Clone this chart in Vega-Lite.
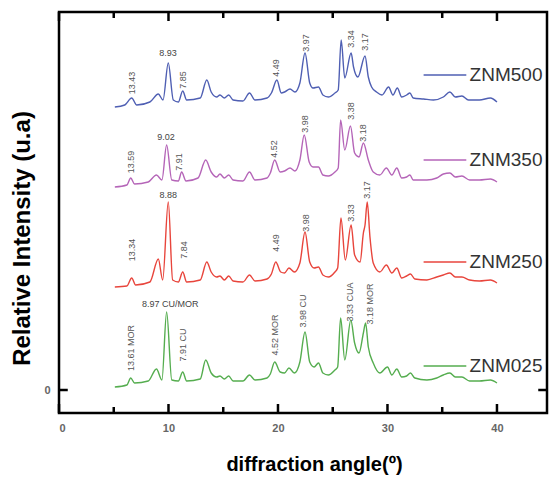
{
  "$schema": "https://vega.github.io/schema/vega-lite/v6.json",
  "width": 488,
  "height": 401,
  "autosize": {"type": "none"},
  "padding": {"left": 59, "top": 12, "right": 4, "bottom": 64},
  "background": "white",
  "config": {
    "view": {"stroke": "black", "strokeWidth": 2.5},
    "font": "Liberation Sans",
    "axis": {"domain": false, "grid": false, "ticks": false, "labelFont": "Liberation Sans", "titleFont": "Liberation Sans"}
  },
  "datasets": {
    "trace": [
      {"s":"ZNM500","x":5.1,"y":283},{"s":"ZNM500","x":6.0,"y":285},{"s":"ZNM500","x":6.64,"y":292},{"s":"ZNM500","x":7.1,"y":285},{"s":"ZNM500","x":8.3,"y":288},{"s":"ZNM500","x":9.07,"y":296},{"s":"ZNM500","x":9.5,"y":290},{"s":"ZNM500","x":9.98,"y":327},{"s":"ZNM500","x":10.44,"y":290},{"s":"ZNM500","x":10.9,"y":288},{"s":"ZNM500","x":11.3,"y":299},{"s":"ZNM500","x":11.66,"y":290},{"s":"ZNM500","x":12.9,"y":292},{"s":"ZNM500","x":13.5,"y":310},{"s":"ZNM500","x":13.9,"y":298},{"s":"ZNM500","x":14.4,"y":293},{"s":"ZNM500","x":14.7,"y":295},{"s":"ZNM500","x":15.1,"y":292},{"s":"ZNM500","x":15.5,"y":295},{"s":"ZNM500","x":15.9,"y":290},{"s":"ZNM500","x":16.8,"y":289},{"s":"ZNM500","x":17.4,"y":297},{"s":"ZNM500","x":17.9,"y":290},{"s":"ZNM500","x":19.0,"y":292},{"s":"ZNM500","x":19.4,"y":297},{"s":"ZNM500","x":19.9,"y":310},{"s":"ZNM500","x":20.3,"y":297},{"s":"ZNM500","x":20.6,"y":298},{"s":"ZNM500","x":21.1,"y":301},{"s":"ZNM500","x":21.55,"y":298},{"s":"ZNM500","x":22.0,"y":307},{"s":"ZNM500","x":22.47,"y":337},{"s":"ZNM500","x":22.9,"y":307},{"s":"ZNM500","x":23.2,"y":302},{"s":"ZNM500","x":23.7,"y":303},{"s":"ZNM500","x":24.1,"y":295},{"s":"ZNM500","x":24.6,"y":293},{"s":"ZNM500","x":25.2,"y":297},{"s":"ZNM500","x":25.5,"y":300},{"s":"ZNM500","x":25.77,"y":350},{"s":"ZNM500","x":26.1,"y":312},{"s":"ZNM500","x":26.68,"y":337},{"s":"ZNM500","x":26.9,"y":323},{"s":"ZNM500","x":27.3,"y":313},{"s":"ZNM500","x":27.95,"y":334},{"s":"ZNM500","x":28.25,"y":313},{"s":"ZNM500","x":28.55,"y":303},{"s":"ZNM500","x":29.0,"y":298},{"s":"ZNM500","x":29.5,"y":295},{"s":"ZNM500","x":30.1,"y":303},{"s":"ZNM500","x":30.5,"y":295},{"s":"ZNM500","x":30.9,"y":302},{"s":"ZNM500","x":31.3,"y":293},{"s":"ZNM500","x":31.75,"y":295},{"s":"ZNM500","x":32.05,"y":297},{"s":"ZNM500","x":32.35,"y":292},{"s":"ZNM500","x":33.3,"y":291},{"s":"ZNM500","x":34.2,"y":290},{"s":"ZNM500","x":35.1,"y":293},{"s":"ZNM500","x":35.7,"y":298},{"s":"ZNM500","x":36.2,"y":293},{"s":"ZNM500","x":36.8,"y":294},{"s":"ZNM500","x":37.4,"y":290},{"s":"ZNM500","x":38.4,"y":290},{"s":"ZNM500","x":39.4,"y":292},{"s":"ZNM500","x":40.0,"y":288},
      {"s":"ZNM350","x":5.1,"y":203},{"s":"ZNM350","x":6.2,"y":205},{"s":"ZNM350","x":6.55,"y":212},{"s":"ZNM350","x":6.9,"y":206},{"s":"ZNM350","x":8.15,"y":208},{"s":"ZNM350","x":8.9,"y":215},{"s":"ZNM350","x":9.4,"y":210},{"s":"ZNM350","x":9.83,"y":245},{"s":"ZNM350","x":10.3,"y":210},{"s":"ZNM350","x":10.9,"y":209},{"s":"ZNM350","x":11.2,"y":218},{"s":"ZNM350","x":11.6,"y":209},{"s":"ZNM350","x":12.7,"y":212},{"s":"ZNM350","x":13.4,"y":230},{"s":"ZNM350","x":13.9,"y":218},{"s":"ZNM350","x":14.4,"y":213},{"s":"ZNM350","x":14.7,"y":216},{"s":"ZNM350","x":15.1,"y":212},{"s":"ZNM350","x":15.5,"y":215},{"s":"ZNM350","x":15.9,"y":210},{"s":"ZNM350","x":16.8,"y":209},{"s":"ZNM350","x":17.4,"y":218},{"s":"ZNM350","x":17.9,"y":210},{"s":"ZNM350","x":19.0,"y":212},{"s":"ZNM350","x":19.3,"y":217},{"s":"ZNM350","x":19.7,"y":230},{"s":"ZNM350","x":20.2,"y":218},{"s":"ZNM350","x":20.6,"y":219},{"s":"ZNM350","x":21.1,"y":222},{"s":"ZNM350","x":21.55,"y":219},{"s":"ZNM350","x":22.0,"y":230},{"s":"ZNM350","x":22.4,"y":255},{"s":"ZNM350","x":22.85,"y":228},{"s":"ZNM350","x":23.2,"y":223},{"s":"ZNM350","x":23.7,"y":223},{"s":"ZNM350","x":24.1,"y":215},{"s":"ZNM350","x":24.6,"y":214},{"s":"ZNM350","x":25.2,"y":218},{"s":"ZNM350","x":25.5,"y":222},{"s":"ZNM350","x":25.72,"y":270},{"s":"ZNM350","x":26.1,"y":240},{"s":"ZNM350","x":26.62,"y":264},{"s":"ZNM350","x":27.0,"y":237},{"s":"ZNM350","x":27.4,"y":233},{"s":"ZNM350","x":27.8,"y":247},{"s":"ZNM350","x":28.25,"y":230},{"s":"ZNM350","x":28.7,"y":218},{"s":"ZNM350","x":29.3,"y":215},{"s":"ZNM350","x":29.9,"y":222},{"s":"ZNM350","x":30.4,"y":215},{"s":"ZNM350","x":30.85,"y":222},{"s":"ZNM350","x":31.3,"y":212},{"s":"ZNM350","x":31.75,"y":213},{"s":"ZNM350","x":32.05,"y":215},{"s":"ZNM350","x":32.35,"y":210},{"s":"ZNM350","x":33.6,"y":210},{"s":"ZNM350","x":34.5,"y":212},{"s":"ZNM350","x":35.1,"y":216},{"s":"ZNM350","x":35.7,"y":217},{"s":"ZNM350","x":36.2,"y":213},{"s":"ZNM350","x":36.8,"y":214},{"s":"ZNM350","x":37.5,"y":210},{"s":"ZNM350","x":38.4,"y":210},{"s":"ZNM350","x":39.4,"y":211},{"s":"ZNM350","x":40.0,"y":208},
      {"s":"ZNM250","x":5.1,"y":103},{"s":"ZNM250","x":6.2,"y":104},{"s":"ZNM250","x":6.64,"y":112},{"s":"ZNM250","x":7.0,"y":105},{"s":"ZNM250","x":8.3,"y":108},{"s":"ZNM250","x":9.07,"y":131},{"s":"ZNM250","x":9.47,"y":110},{"s":"ZNM250","x":9.98,"y":188},{"s":"ZNM250","x":10.38,"y":110},{"s":"ZNM250","x":10.9,"y":108},{"s":"ZNM250","x":11.3,"y":118},{"s":"ZNM250","x":11.66,"y":108},{"s":"ZNM250","x":12.9,"y":110},{"s":"ZNM250","x":13.5,"y":128},{"s":"ZNM250","x":13.9,"y":118},{"s":"ZNM250","x":14.4,"y":113},{"s":"ZNM250","x":14.7,"y":114},{"s":"ZNM250","x":15.1,"y":110},{"s":"ZNM250","x":15.5,"y":114},{"s":"ZNM250","x":15.9,"y":109},{"s":"ZNM250","x":16.8,"y":108},{"s":"ZNM250","x":17.4,"y":115},{"s":"ZNM250","x":17.9,"y":109},{"s":"ZNM250","x":19.0,"y":111},{"s":"ZNM250","x":19.4,"y":116},{"s":"ZNM250","x":19.8,"y":128},{"s":"ZNM250","x":20.25,"y":118},{"s":"ZNM250","x":20.6,"y":117},{"s":"ZNM250","x":21.0,"y":122},{"s":"ZNM250","x":21.5,"y":118},{"s":"ZNM250","x":22.0,"y":127},{"s":"ZNM250","x":22.47,"y":158},{"s":"ZNM250","x":22.9,"y":128},{"s":"ZNM250","x":23.3,"y":122},{"s":"ZNM250","x":23.7,"y":123},{"s":"ZNM250","x":24.1,"y":115},{"s":"ZNM250","x":24.6,"y":113},{"s":"ZNM250","x":25.2,"y":118},{"s":"ZNM250","x":25.45,"y":122},{"s":"ZNM250","x":25.75,"y":172},{"s":"ZNM250","x":26.15,"y":130},{"s":"ZNM250","x":26.68,"y":165},{"s":"ZNM250","x":27.0,"y":135},{"s":"ZNM250","x":27.5,"y":128},{"s":"ZNM250","x":27.8,"y":157},{"s":"ZNM250","x":27.95,"y":165},{"s":"ZNM250","x":28.15,"y":188},{"s":"ZNM250","x":28.4,"y":153},{"s":"ZNM250","x":28.7,"y":127},{"s":"ZNM250","x":29.3,"y":118},{"s":"ZNM250","x":29.9,"y":125},{"s":"ZNM250","x":30.4,"y":117},{"s":"ZNM250","x":30.85,"y":122},{"s":"ZNM250","x":31.3,"y":112},{"s":"ZNM250","x":31.75,"y":114},{"s":"ZNM250","x":32.1,"y":116},{"s":"ZNM250","x":32.5,"y":111},{"s":"ZNM250","x":33.6,"y":110},{"s":"ZNM250","x":34.5,"y":113},{"s":"ZNM250","x":35.1,"y":115},{"s":"ZNM250","x":35.7,"y":117},{"s":"ZNM250","x":36.2,"y":113},{"s":"ZNM250","x":36.8,"y":113},{"s":"ZNM250","x":37.5,"y":110},{"s":"ZNM250","x":38.4,"y":109},{"s":"ZNM250","x":39.4,"y":110},{"s":"ZNM250","x":40.0,"y":107},
      {"s":"ZNM025","x":5.1,"y":3},{"s":"ZNM025","x":6.2,"y":5},{"s":"ZNM025","x":6.55,"y":12},{"s":"ZNM025","x":6.9,"y":7},{"s":"ZNM025","x":8.15,"y":9},{"s":"ZNM025","x":8.9,"y":21},{"s":"ZNM025","x":9.4,"y":10},{"s":"ZNM025","x":9.83,"y":78},{"s":"ZNM025","x":10.3,"y":10},{"s":"ZNM025","x":10.9,"y":9},{"s":"ZNM025","x":11.3,"y":18},{"s":"ZNM025","x":11.66,"y":9},{"s":"ZNM025","x":12.9,"y":11},{"s":"ZNM025","x":13.4,"y":30},{"s":"ZNM025","x":13.9,"y":17},{"s":"ZNM025","x":14.4,"y":13},{"s":"ZNM025","x":14.7,"y":14},{"s":"ZNM025","x":15.1,"y":11},{"s":"ZNM025","x":15.5,"y":14},{"s":"ZNM025","x":15.9,"y":9},{"s":"ZNM025","x":16.8,"y":9},{"s":"ZNM025","x":17.4,"y":15},{"s":"ZNM025","x":17.9,"y":10},{"s":"ZNM025","x":19.0,"y":12},{"s":"ZNM025","x":19.3,"y":16},{"s":"ZNM025","x":19.7,"y":28},{"s":"ZNM025","x":20.2,"y":18},{"s":"ZNM025","x":20.6,"y":17},{"s":"ZNM025","x":21.0,"y":22},{"s":"ZNM025","x":21.5,"y":17},{"s":"ZNM025","x":22.0,"y":28},{"s":"ZNM025","x":22.47,"y":58},{"s":"ZNM025","x":22.9,"y":28},{"s":"ZNM025","x":23.3,"y":23},{"s":"ZNM025","x":23.7,"y":27},{"s":"ZNM025","x":24.1,"y":17},{"s":"ZNM025","x":24.6,"y":15},{"s":"ZNM025","x":25.2,"y":20},{"s":"ZNM025","x":25.45,"y":23},{"s":"ZNM025","x":25.72,"y":72},{"s":"ZNM025","x":26.1,"y":30},{"s":"ZNM025","x":26.65,"y":70},{"s":"ZNM025","x":27.0,"y":47},{"s":"ZNM025","x":27.4,"y":37},{"s":"ZNM025","x":27.8,"y":57},{"s":"ZNM025","x":28.0,"y":67},{"s":"ZNM025","x":28.25,"y":43},{"s":"ZNM025","x":28.7,"y":27},{"s":"ZNM025","x":29.3,"y":17},{"s":"ZNM025","x":30.0,"y":23},{"s":"ZNM025","x":30.4,"y":15},{"s":"ZNM025","x":30.85,"y":21},{"s":"ZNM025","x":31.3,"y":13},{"s":"ZNM025","x":31.75,"y":14},{"s":"ZNM025","x":32.1,"y":17},{"s":"ZNM025","x":32.5,"y":12},{"s":"ZNM025","x":33.6,"y":10},{"s":"ZNM025","x":34.5,"y":12},{"s":"ZNM025","x":35.1,"y":15},{"s":"ZNM025","x":35.7,"y":17},{"s":"ZNM025","x":36.2,"y":13},{"s":"ZNM025","x":36.8,"y":13},{"s":"ZNM025","x":37.5,"y":9},{"s":"ZNM025","x":38.4,"y":9},{"s":"ZNM025","x":39.4,"y":10},{"s":"ZNM025","x":40.0,"y":7}
    ],
    "peaks": [
      {"t":"13.43","x":6.64,"y":307,"o":"v"},{"t":"8.93","x":9.95,"y":337,"o":"h"},{"t":"7.85","x":11.35,"y":310,"o":"v"},{"t":"4.49","x":19.8,"y":322,"o":"v"},{"t":"3.97","x":22.55,"y":347,"o":"v"},{"t":"3.34","x":26.7,"y":351,"o":"v"},{"t":"3.17","x":27.95,"y":348,"o":"v"},
      {"t":"13.59","x":6.55,"y":228,"o":"v"},{"t":"9.02","x":9.77,"y":253,"o":"h"},{"t":"7.91","x":11.0,"y":228,"o":"v"},{"t":"4.52","x":19.6,"y":241,"o":"v"},{"t":"3.98","x":22.47,"y":266,"o":"v"},{"t":"3.38","x":26.65,"y":279,"o":"v"},{"t":"3.18","x":27.8,"y":257,"o":"v"},
      {"t":"13.34","x":6.64,"y":140,"o":"v"},{"t":"8.88","x":9.98,"y":195,"o":"h"},{"t":"7.84","x":11.4,"y":140,"o":"v"},{"t":"4.49","x":19.8,"y":147,"o":"v"},{"t":"3.98","x":22.55,"y":167,"o":"v"},{"t":"3.33","x":26.7,"y":177,"o":"v"},{"t":"3.17","x":28.1,"y":200,"o":"v"},
      {"t":"13.61  MOR","x":6.55,"y":42,"o":"v"},{"t":"8.97  CU/MOR","x":10.15,"y":86,"o":"h"},{"t":"7.91  CU","x":11.35,"y":45,"o":"v"},{"t":"4.52  MOR","x":19.7,"y":55,"o":"v"},{"t":"3.98  CU","x":22.25,"y":79,"o":"v"},{"t":"3.33  CUA","x":26.6,"y":88,"o":"v"},{"t":"3.18  MOR","x":28.4,"y":86,"o":"v"}
    ],
    "legend": [
      {"s":"ZNM500","x1":33.3,"x2":37.2,"tx":37.5,"y":315},
      {"s":"ZNM350","x1":33.3,"x2":37.2,"tx":37.5,"y":230},
      {"s":"ZNM250","x1":33.3,"x2":37.2,"tx":37.5,"y":128},
      {"s":"ZNM025","x1":33.3,"x2":37.2,"tx":37.5,"y":24}
    ],
    "xticks": [
      {"v":0,"a":-23,"b":-14},{"v":5,"a":-23,"b":-17},{"v":10,"a":-23,"b":-14},{"v":15,"a":-23,"b":-17},{"v":20,"a":-23,"b":-14},{"v":25,"a":-23,"b":-17},{"v":30,"a":-23,"b":-14},{"v":35,"a":-23,"b":-17},{"v":40,"a":-23,"b":-14},
      {"v":0,"a":378,"b":369},{"v":5,"a":378,"b":372},{"v":10,"a":378,"b":369},{"v":15,"a":378,"b":372},{"v":20,"a":378,"b":369},{"v":25,"a":378,"b":372},{"v":30,"a":378,"b":369},{"v":35,"a":378,"b":372},{"v":40,"a":378,"b":369}
    ],
    "yticks": [
      {"a":0,"b":0.8,"v":0},{"a":44.57,"b":43.77,"v":0}
    ]
  },
  "layer": [
    {
      "data": {"name": "trace"},
      "mark": {"type": "line", "strokeWidth": 1.4, "interpolate": "monotone"},
      "encoding": {
        "x": {"field": "x", "type": "quantitative", "title": "diffraction angle(º)", "scale": {"domain": [0, 44.57], "nice": false, "zero": false},
          "axis": {"orient": "bottom", "values": [0,10,20,30,40], "labelPadding": 9, "labelFontSize": 11, "labelColor": "#666666", "labelFontWeight": "bold", "title": "diffraction angle(º)", "titleFontSize": 20, "titleFontWeight": "bold", "titleColor": "black", "titleBaseline": "alphabetic", "titleAlign": "center", "titleX": 255, "titleY": 57}},
        "y": {"field": "y", "type": "quantitative", "title": "Relative Intensity (u.a)", "scale": {"domain": [-23, 378], "nice": false, "zero": false},
          "axis": {"orient": "left", "values": [0], "labelPadding": 9, "labelFontSize": 11, "labelColor": "#666666", "labelFontWeight": "bold", "title": "Relative Intensity (u.a)", "titleFontSize": 24, "titleFontWeight": "bold", "titleColor": "black", "titleAngle": 270, "titleBaseline": "alphabetic", "titleX": -30, "titleY": 226}},
        "color": {"field": "s", "type": "nominal", "scale": {"domain": ["ZNM500","ZNM350","ZNM250","ZNM025"], "range": ["#4f5fb3","#b565b8","#e8453c","#55ad4f"]}, "legend": null}
      }
    },
    {
      "data": {"name": "peaks"},
      "transform": [{"filter": "datum.o === 'v'"}],
      "mark": {"type": "text", "angle": 270, "fontSize": 9, "color": "#555555", "align": "center", "baseline": "middle"},
      "encoding": {
        "x": {"field": "x", "type": "quantitative", "title": "diffraction angle(º)"},
        "y": {"field": "y", "type": "quantitative", "title": "Relative Intensity (u.a)"},
        "text": {"field": "t", "type": "nominal"}
      }
    },
    {
      "data": {"name": "peaks"},
      "transform": [{"filter": "datum.o === 'h'"}],
      "mark": {"type": "text", "fontSize": 9, "color": "#444444", "align": "center", "baseline": "middle"},
      "encoding": {
        "x": {"field": "x", "type": "quantitative", "title": "diffraction angle(º)"},
        "y": {"field": "y", "type": "quantitative", "title": "Relative Intensity (u.a)"},
        "text": {"field": "t", "type": "nominal"}
      }
    },
    {
      "data": {"name": "legend"},
      "mark": {"type": "rule", "strokeWidth": 1.5},
      "encoding": {
        "x": {"field": "x1", "type": "quantitative", "title": "diffraction angle(º)"},
        "x2": {"field": "x2"},
        "y": {"field": "y", "type": "quantitative", "title": "Relative Intensity (u.a)"},
        "color": {"field": "s", "type": "nominal", "legend": null}
      }
    },
    {
      "data": {"name": "legend"},
      "mark": {"type": "text", "fontSize": 19, "color": "#333333", "align": "left", "baseline": "middle"},
      "encoding": {
        "x": {"field": "tx", "type": "quantitative", "title": "diffraction angle(º)"},
        "y": {"field": "y", "type": "quantitative", "title": "Relative Intensity (u.a)"},
        "text": {"field": "s", "type": "nominal"}
      }
    },
    {
      "data": {"name": "xticks"},
      "mark": {"type": "rule", "strokeWidth": 2.5, "stroke": "#000000", "strokeCap": "butt", "opacity": 1},
      "encoding": {
        "x": {"field": "v", "type": "quantitative", "title": "diffraction angle(º)"},
        "y": {"field": "a", "type": "quantitative", "title": "Relative Intensity (u.a)"},
        "y2": {"field": "b"}
      }
    },
    {
      "data": {"name": "yticks"},
      "mark": {"type": "rule", "strokeWidth": 2.5, "stroke": "#000000", "strokeCap": "butt", "opacity": 1},
      "encoding": {
        "x": {"field": "a", "type": "quantitative", "title": "diffraction angle(º)"},
        "x2": {"field": "b"},
        "y": {"field": "v", "type": "quantitative", "title": "Relative Intensity (u.a)"}
      }
    }
  ]
}
